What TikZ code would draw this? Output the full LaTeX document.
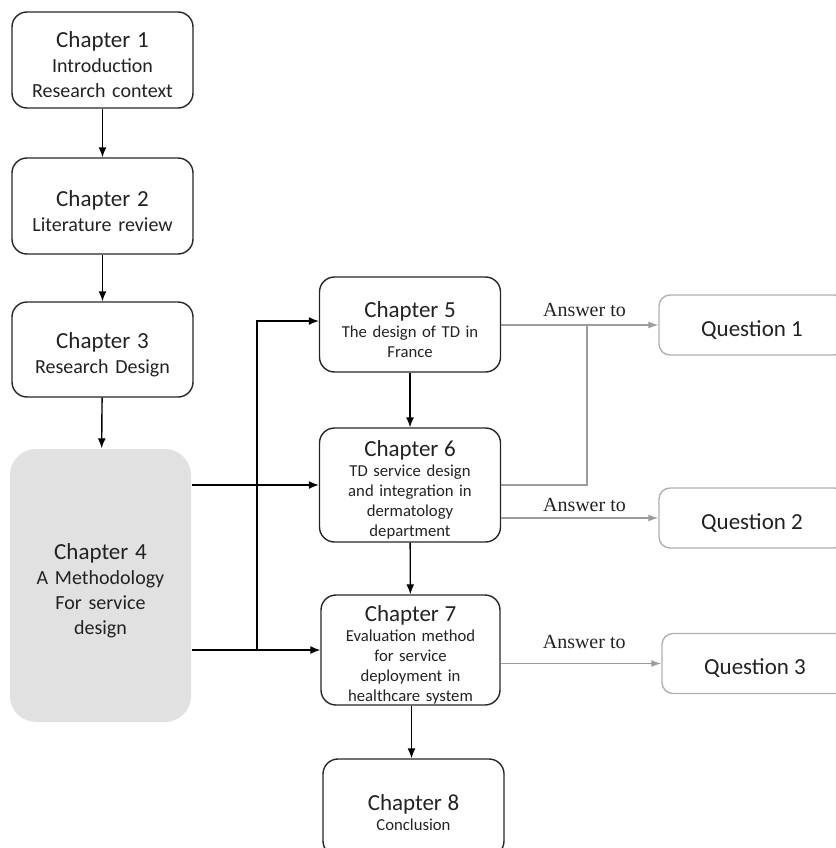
\documentclass[tikz,border=0pt]{standalone}
\usepackage{fontspec}
\setmainfont{Carlito}
\newfontfamily\answerfont{Liberation Serif}
\usetikzlibrary{arrows.meta}
\definecolor{methgray}{HTML}{E1E1E1}
\definecolor{linegray}{HTML}{9C9C9C}
\definecolor{boxgray}{HTML}{B0B0B0}
\definecolor{txtgray}{HTML}{222222}
\begin{document}
\begin{tikzpicture}[x=1pt,y=-1pt,line width=1.4pt,>={Latex[length=10pt,width=8pt]},
	chapbox/.style={draw=black!85,rounded corners=15pt,align=center,minimum width=181pt,text width=175pt,inner sep=0pt,text height=26pt,text=txtgray,font=\fontsize{20}{25}\selectfont},
	smalltext/.style={font=\fontsize{16.7}{20}\selectfont},
	methbox/.style={chapbox,draw=none,fill=methgray,rounded corners=26pt},
	questbox/.style={draw=boxgray,rounded corners=11pt,minimum width=186pt,minimum height=60pt,text height=26pt,text=txtgray,font=\fontsize{23}{25}\selectfont},
	answer/.style={above,inner sep=0pt,text=txtgray,font=\answerfont\fontsize{20}{22}\selectfont},
	graylink/.style={draw=linegray,line width=1.3pt,>={Latex[length=10pt,width=7pt]}}]
	\useasboundingbox (0,0) rectangle (835,848);
	\newcommand{\chtitle}[1]{{\fontsize{23}{25}\selectfont #1}}
	% left column
	\node[chapbox,minimum height=96pt] (ch1) at (102.5,60) {\chtitle{Chapter 1}\\Introduction\\Research context};
	\node[chapbox,minimum height=96pt] (ch2) at (102.5,206) {\chtitle{Chapter 2}\\Literature review};
	\node[chapbox,minimum height=95pt] (ch3) at (102.5,349.5) {\chtitle{Chapter 3}\\Research Design};
	\node[methbox,minimum height=273pt] (ch4) at (100.5,585.5) {\chtitle{Chapter 4}\\A Methodology\\For service\\design};
	% middle column
	\node[chapbox,smalltext,minimum height=95pt] (ch5) at (410,324.5) {\chtitle{Chapter 5}\\The design of TD in\\France};
	\node[chapbox,smalltext,minimum height=114pt] (ch6) at (410,485) {\chtitle{Chapter 6}\\TD service design\\and integration in\\dermatology\\department};
	\node[chapbox,smalltext,minimum width=179pt,minimum height=110pt] (ch7) at (410.5,650) {\chtitle{Chapter 7}\\Evaluation method\\for service\\deployment in\\healthcare system};
	\node[chapbox,smalltext,minimum height=97pt] (ch8) at (413.5,807.5) {\chtitle{Chapter 8}\\Conclusion};
	% questions
	\node[questbox] (q1) at (752,325) {Question 1};
	\node[questbox] (q2) at (752,518) {Question 2};
	\node[questbox] (q3) at (755,663.5) {Question 3};
	% links
	\draw[->] (ch1) -- (ch2);
	\draw[->] (ch2) -- (ch3);
	\draw[->] (ch3) -- (ch4);
	\draw[->] (ch4.east |- ch6.west) -- (ch6.west);
	\draw[->] (ch4.east |- ch7.west) -- (ch7.west);
	\coordinate (jn) at (257,650);
	\coordinate (up) at (257,321);
	\draw[->] (jn) -- (up) -- (ch5.west |- up);
	\draw[->] (ch5) -- (ch6);
	\draw[->] (ch6) -- (ch7);
	\draw[->] ([xshift=1pt]ch7.south) -- ([xshift=1pt]ch8.north -| ch7.south);
	\coordinate (mg) at (587,325);
	\draw[graylink,->] (ch5.east |- q1.west) -- (q1.west) node[answer,pos=0.53,yshift=8pt] {Answer to};
	\draw[graylink] (ch6.east) -| (mg);
	\draw[graylink,->] (ch6.east |- q2.west) -- (q2.west) node[answer,pos=0.53,yshift=6pt] {Answer to};
	\draw[graylink,->] (ch7.east |- q3.west) -- (q3.west) node[answer,pos=0.52,yshift=14pt] {Answer to};
\end{tikzpicture}
\end{document}
